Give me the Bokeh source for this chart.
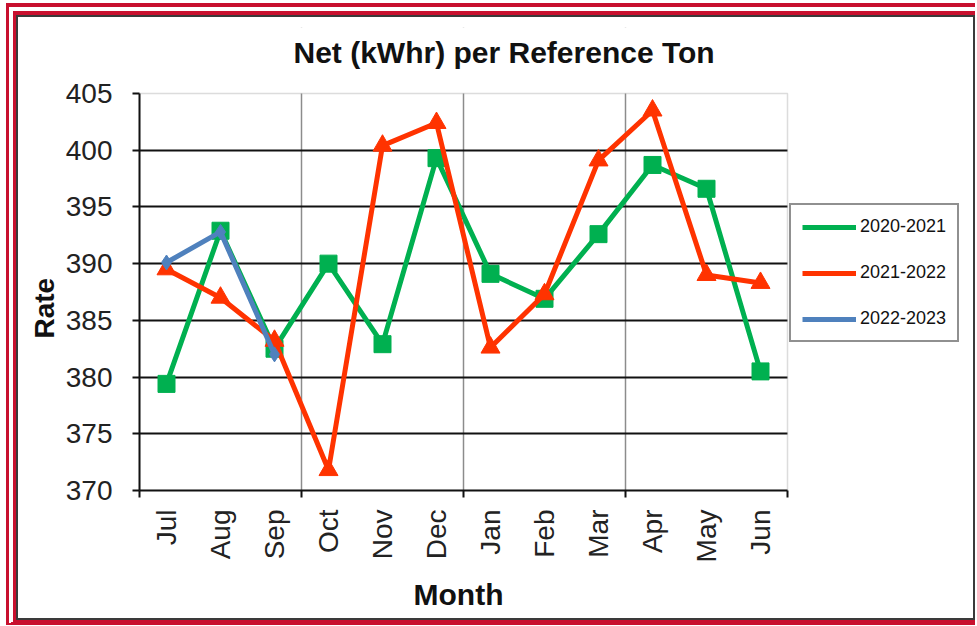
import math
from bokeh.plotting import figure
from bokeh.models import FixedTicker, Legend, LegendItem, BoxAnnotation, Title, Label
from bokeh.layouts import column
from bokeh.embed import file_html
from bokeh.resources import INLINE

months = ["Jul", "Aug", "Sep", "Oct", "Nov", "Dec", "Jan", "Feb", "Mar", "Apr", "May", "Jun"]
fy2020_2021 = [379.4, 392.9, 382.5, 390.0, 382.9, 399.3, 389.1, 386.9, 392.6, 398.7, 396.6, 380.5]
fy2021_2022 = [389.5, 387.0, 383.2, 371.8, 400.4, 402.4, 382.6, 387.3, 399.1, 403.5, 389.0, 388.3]
fy2022_2023 = [390.1, 392.8, 382.0]
series_names = ["2020-2021", "2021-2022", "2022-2023"]
y_ticks = [370, 375, 380, 385, 390, 395, 400, 405]
chart_title = "Net (kWhr) per Reference Ton"

GREEN = "#00B050"
RED = "#FF3300"
BLUE = "#4F81BD"
FONT = "Liberation Sans"

# layout (pixels)
FIG_W, FIG_H = 959, 605
B_LEFT, B_RIGHT, B_TOP, B_BOTTOM = 121, 2, 10, 132
PLOT_W_PX, PLOT_H_PX = 648, 397  # months/values area; rest of the frame holds legend & title
frame_w = FIG_W - B_LEFT - B_RIGHT
frame_h = FIG_H - B_TOP - B_BOTTOM

x = list(range(len(months)))
x_lo, x_hi = -0.5, len(months) - 0.5
y_lo, y_hi = y_ticks[0], y_ticks[-1]
x_end = x_lo + (x_hi - x_lo) * frame_w / PLOT_W_PX
y_end = y_lo + (y_hi - y_lo) * frame_h / PLOT_H_PX
quarter_edges = [i - 0.5 for i in range(0, len(months) + 1, 3)]

p = figure(width=FIG_W, height=FIG_H, output_backend="svg", toolbar_location=None,
           x_range=(x_lo, x_end), y_range=(y_lo, y_end),
           min_border_left=B_LEFT, min_border_right=B_RIGHT,
           min_border_top=B_TOP, min_border_bottom=B_BOTTOM)
p.styles = {"border": "2px solid #3a3a3a"}

p.outline_line_color = None
p.background_fill_color = "white"
p.border_fill_color = "white"

# x axis
xa = p.xaxis[0]
xa.bounds = (x_lo, x_hi)
xa.ticker = FixedTicker(ticks=x, minor_ticks=quarter_edges)
xa.major_label_overrides = {i: m for i, m in enumerate(months)}
xa.major_label_orientation = math.pi / 2
xa.major_tick_line_color = None
xa.major_tick_out = 0
xa.major_tick_in = 0
xa.minor_tick_out = 7
xa.minor_tick_in = 0
xa.minor_tick_line_color = "#111111"
xa.minor_tick_line_width = 2
xa.axis_line_color = "#111111"
xa.axis_line_width = 2
xa.major_label_text_font = FONT
xa.major_label_text_font_size = "28px"
xa.major_label_text_color = "#222222"
xa.major_label_standoff = 12

# y axis
ya = p.yaxis[0]
ya.bounds = (y_lo, y_hi)
ya.ticker = FixedTicker(ticks=y_ticks)
ya.minor_tick_line_color = None
ya.major_tick_out = 7
ya.major_tick_in = 0
ya.major_tick_line_color = "#111111"
ya.major_tick_line_width = 2
ya.axis_line_color = "#111111"
ya.axis_line_width = 2
ya.major_label_text_font = FONT
ya.major_label_text_font_size = "28px"
ya.major_label_text_color = "#222222"
ya.major_label_standoff = 20

# axis titles
x_title = Title(text="Month", align="left", offset=274, standoff=20,
                text_font=FONT, text_font_size="30px", text_font_style="bold",
                text_color="#111111")
p.add_layout(x_title, "below")
y_title = Title(text="Rate", align="left", offset=152, standoff=6,
                text_font=FONT, text_font_size="28px", text_font_style="bold",
                text_color="#111111")
p.add_layout(y_title, "left")

# grids
p.ygrid.ticker = FixedTicker(ticks=y_ticks[1:-1])
p.ygrid.grid_line_color = "#111111"
p.ygrid.grid_line_width = 1.8
p.xgrid.ticker = FixedTicker(ticks=quarter_edges[1:-1])
p.xgrid.grid_line_color = "#8c8c8c"
p.xgrid.grid_line_width = 1.5

# white areas right of and above the plot area, and the plot-area outline
p.add_layout(BoxAnnotation(left=x_hi, fill_color="white", fill_alpha=1,
                           line_color=None, level="underlay"))
p.add_layout(BoxAnnotation(bottom=y_hi, fill_color="white", fill_alpha=1,
                           line_color=None, level="underlay"))
p.add_layout(BoxAnnotation(left=x_lo, right=x_hi, bottom=y_lo, top=y_hi,
                           fill_alpha=0, line_color="#8c8c8c", line_width=1.5,
                           level="underlay"))

# chart title, anchored at the plot area's top-left corner
p.add_layout(Label(x=x_lo, y=y_hi, x_offset=154, y_offset=41, text=chart_title,
                   text_font=FONT, text_font_size="30px", text_font_style="bold",
                   text_color="#111111", text_align="left", text_baseline="middle"))

# series
g_line = p.line(x, fy2020_2021, line_color=GREEN, line_width=5)
g_pts = p.scatter(x, fy2020_2021, marker="square", size=17, color=GREEN)
r_line = p.line(x, fy2021_2022, line_color=RED, line_width=5)
r_pts = p.scatter(x, fy2021_2022, marker="triangle", size=19, color=RED)
b_line = p.line(x[:len(fy2022_2023)], fy2022_2023, line_color=BLUE, line_width=5)
b_pts = p.scatter(x[:len(fy2022_2023)], fy2022_2023, marker="diamond", size=15, color=BLUE)

# small legend markers (legend-only proxies)
g_key = p.scatter(x=[], y=[], marker="square", size=7, color=GREEN)
r_key = p.scatter(x=[], y=[], marker="triangle", size=8, color=RED)
b_key = p.scatter(x=[], y=[], marker="diamond", size=7, color=BLUE)

legend = Legend(items=[
    LegendItem(label=series_names[0], renderers=[g_line, g_key]),
    LegendItem(label=series_names[1], renderers=[r_line, r_key]),
    LegendItem(label=series_names[2], renderers=[b_line, b_key]),
], location=(PLOT_W_PX + 2, 148))
legend.border_line_color = "#222222"
legend.border_line_width = 2
legend.background_fill_color = "white"
legend.background_fill_alpha = 1
legend.label_text_font = FONT
legend.label_text_font_size = "18px"
legend.label_text_color = "#111111"
legend.glyph_width = 54
legend.glyph_height = 20
legend.label_height = 20
legend.label_standoff = 4
legend.padding = 11
legend.spacing = 25
legend.margin = 0
p.add_layout(legend, "center")

layout = column(p, styles={
    "margin": "3px 0 0 6px",
    "border-left": "10px double #c8102e",
    "border-top": "12px double #c8102e",
    "border-bottom": "5px solid #c8102e",
})

open("out.html", "w").write(file_html(layout, INLINE))
